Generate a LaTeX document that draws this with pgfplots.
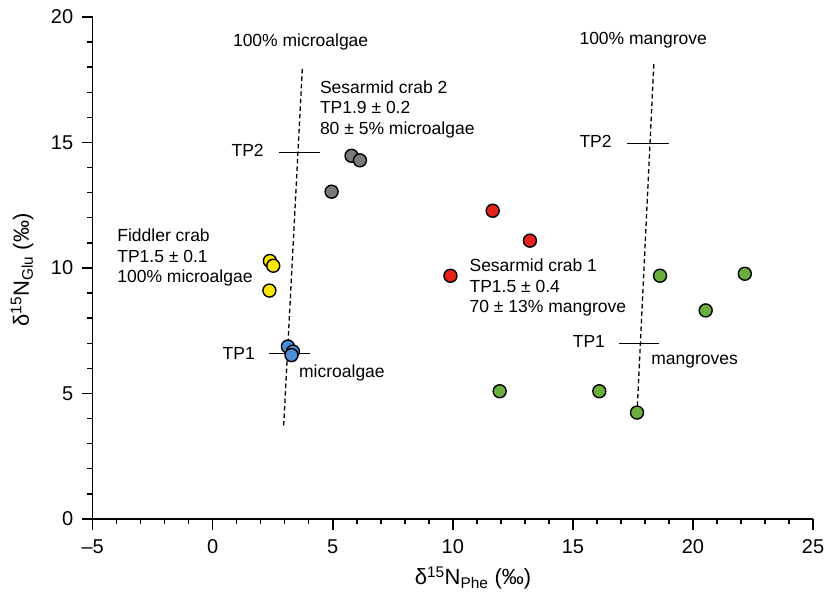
\documentclass[border=0pt]{standalone}
\usepackage{pgfplots}
\pgfplotsset{compat=1.18}
\usepackage{fontspec}
\setmainfont{Liberation Sans}

\definecolor{cyellow}{HTML}{FFE600}
\definecolor{cgray}{HTML}{7A7A7A}
\definecolor{cblue}{HTML}{4A8FD6}
\definecolor{cred}{HTML}{E4231B}
\definecolor{cgreen}{HTML}{6AAE3E}

\newcommand{\annot}{\fontsize{17.5}{21}\selectfont}

\begin{document}
\begin{tikzpicture}
\begin{axis}[
    scale only axis,
    width=720.3pt, height=502pt,
    xmin=-5, xmax=25, ymin=0, ymax=20,
    axis x line=bottom, axis y line=left,
    axis line style={-, line width=1.5pt},
    tick align=outside,
    major tick length=11pt, minor tick length=5.5pt,
    every tick/.style={black, line width=1.4pt},
    xtick={-5,0,5,10,15,20,25},
    xticklabels={\textendash5,0,5,10,15,20,25},
    ytick={0,5,10,15,20},
    minor tick num=4,
    /pgf/number format/assume math mode=true,
    ticklabel style={font=\fontsize{20}{24}\selectfont},
    xticklabel style={yshift=-6pt},
    yticklabel style={xshift=-5pt},
    clip=false,
    every node/.append style={inner sep=0pt},
    mark options={draw=black, line width=1.4pt},
]

% source lines (dashed) and trophic position bars
\addplot[black, line width=1.3pt, dash pattern=on 4.5pt off 3pt] coordinates {(3.73,17.93) (2.95,3.64)};
\addplot[black, line width=1.3pt, dash pattern=on 4.5pt off 3pt] coordinates {(18.37,18.12) (17.67,4.20)};
\addplot[black, line width=1.4pt] coordinates {(2.74,14.61) (4.46,14.61)};
\addplot[black, line width=1.4pt] coordinates {(2.34,6.60) (4.07,6.60)};
\addplot[black, line width=1.4pt] coordinates {(17.24,14.95) (18.99,14.95)};
\addplot[black, line width=1.4pt] coordinates {(16.90,7.00) (18.60,7.00)};

% fiddler crab
\addplot[only marks, mark=*, mark size=6.5pt, fill=cyellow] coordinates {
    (2.38,10.28) (2.52,10.09) (2.36,9.10)};
% sesarmid crab 2
\addplot[only marks, mark=*, mark size=6.5pt, fill=cgray] coordinates {
    (5.78,14.47) (6.13,14.29) (4.95,13.04)};
% microalgae
\addplot[only marks, mark=*, mark size=6.5pt, fill=cblue] coordinates {
    (3.13,6.87) (3.34,6.67) (3.28,6.53)};
% sesarmid crab 1
\addplot[only marks, mark=*, mark size=6.5pt, fill=cred] coordinates {
    (11.66,12.28) (13.21,11.09) (9.90,9.69)};
% mangroves
\addplot[only marks, mark=*, mark size=6.5pt, fill=cgreen] coordinates {
    (18.63,9.69) (22.16,9.77) (20.53,8.31) (11.95,5.09) (16.10,5.09) (17.67,4.24)};

\node[font=\annot] at (axis cs:3.66,18.99) {100\% microalgae};
\node[font=\annot] at (axis cs:17.93,19.08) {100\% mangrove};

\node[font=\annot, anchor=base west] at (axis cs:4.32,16.96) {Sesarmid crab 2};
\node[font=\annot, anchor=base west] at (axis cs:4.32,16.14) {TP1.9 ± 0.2};
\node[font=\annot, anchor=base west] at (axis cs:4.32,15.30) {80 ± 5\% microalgae};

\node[font=\annot, anchor=base west] at (axis cs:-4.12,11.05) {Fiddler crab};
\node[font=\annot, anchor=base west] at (axis cs:-4.12,10.23) {TP1.5 ± 0.1};
\node[font=\annot, anchor=base west] at (axis cs:-4.12,9.43) {100\% microalgae};

\node[font=\annot, anchor=base west] at (axis cs:10.55,9.85) {Sesarmid crab 1};
\node[font=\annot, anchor=base west] at (axis cs:10.55,9.03) {TP1.5 ± 0.4};
\node[font=\annot, anchor=base west] at (axis cs:10.55,8.22) {70 ± 13\% mangrove};

\node[font=\annot, anchor=base east] at (axis cs:2.27,14.46) {TP2};
\node[font=\annot, anchor=base east] at (axis cs:16.76,14.82) {TP2};
\node[font=\annot, anchor=base east] at (axis cs:1.90,6.36) {TP1};
\node[font=\annot, anchor=base east] at (axis cs:16.48,6.82) {TP1};
\node[font=\annot, anchor=base west] at (axis cs:3.45,5.65) {microalgae};
\node[font=\annot, anchor=base west] at (axis cs:18.12,6.16) {mangroves};
\end{axis}

\path (current axis.south west) ++(380.3pt,-59pt)
    node[inner sep=0pt, font=\fontsize{22}{26}\selectfont]
    {δ\textsuperscript{15}N\textsubscript{Phe} (‰)};
\path (current axis.south west) ++(-70.7pt,249pt)
    node[inner sep=0pt, rotate=90, font=\fontsize{22}{26}\selectfont]
    {δ\textsuperscript{15}N\textsubscript{Glu} (‰)};

\pgfresetboundingbox
\path (current axis.south west) ++(-92.7pt,-82pt) rectangle ++(824pt,601pt);
\end{tikzpicture}
\end{document}
